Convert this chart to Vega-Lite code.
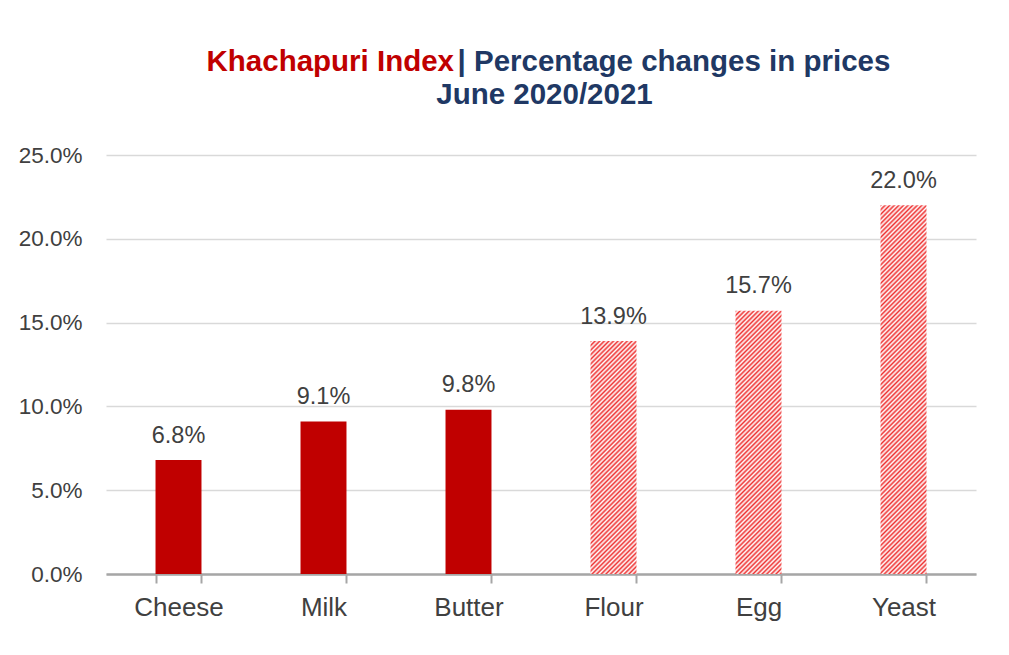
{
"$schema": "https://vega.github.io/schema/vega-lite/v6.json",
"width": 870,
"height": 419,
"autosize": {"type": "none"},
"padding": {"left": 106, "top": 155, "right": 33, "bottom": 81},
"background": "white",
"data": {"values": [
{"item": "Cheese", "value": 0.068},
{"item": "Milk", "value": 0.091},
{"item": "Butter", "value": 0.098},
{"item": "Flour", "value": 0.139},
{"item": "Egg", "value": 0.157},
{"item": "Yeast", "value": 0.22}
]},
"encoding": {
"x": {"field": "item", "type": "nominal", "sort": null,
"scale": {"paddingInner": 0.683, "paddingOuter": 0.3415},
"axis": {"title": "| Percentage changes in prices", "titleFont": "Liberation Sans", "titleFontSize": 29.5, "titleFontWeight": "bold", "titleColor": "#203864", "titleAngle": 0, "titleAlign": "left", "titleBaseline": "alphabetic", "titleAnchor": null, "titleX": 351, "titleY": -504,
"labelAngle": 0, "labelFont": "Liberation Sans", "labelFontSize": 26, "labelColor": "#404040", "labelPadding": 11, "tickBand": "extent", "ticks": true, "tickSize": 9, "tickColor": "#a6a6a6", "tickWidth": 2, "domainColor": "#a6a6a6", "domainWidth": 2.5, "grid": false}}
},
"layer": [
{"mark": {"type": "bar"},
"encoding": {
"y": {"field": "value", "type": "quantitative",
"scale": {"domain": [0, 0.25], "nice": false},
"axis": {"title": "Khachapuri Index", "titleFont": "Liberation Sans", "titleFontSize": 29.5, "titleFontWeight": "bold", "titleColor": "#c00000", "titleAngle": 0, "titleAlign": "left", "titleBaseline": "alphabetic", "titleAnchor": null, "titleX": 100, "titleY": -85,
"values": [0, 0.05, 0.1, 0.15, 0.2, 0.25], "format": ".1%", "domain": false, "ticks": false, "labelFont": "Liberation Sans", "labelFontSize": 22.5, "labelColor": "#404040", "labelPadding": 24, "gridColor": "#d9d9d9", "gridWidth": 1.5}},
"fill": {"condition": [
{"test": "datum.item === 'Flour'", "value": {"gradient": "linear", "x1": 0, "y1": 0, "x2": 0.37527, "y2": 1.90049, "stops": [
{"offset":0,"color":"#e33"},{"offset":0.005,"color":"#fff"},{"offset":0.01,"color":"#e33"},{"offset":0.015,"color":"#fff"},{"offset":0.02,"color":"#e33"},{"offset":0.025,"color":"#fff"},{"offset":0.03,"color":"#e33"},{"offset":0.035,"color":"#fff"},{"offset":0.04,"color":"#e33"},{"offset":0.045,"color":"#fff"},
{"offset":0.05,"color":"#e33"},{"offset":0.055,"color":"#fff"},{"offset":0.06,"color":"#e33"},{"offset":0.065,"color":"#fff"},{"offset":0.07,"color":"#e33"},{"offset":0.075,"color":"#fff"},{"offset":0.08,"color":"#e33"},{"offset":0.085,"color":"#fff"},{"offset":0.09,"color":"#e33"},{"offset":0.095,"color":"#fff"},
{"offset":0.10,"color":"#e33"},{"offset":0.105,"color":"#fff"},{"offset":0.11,"color":"#e33"},{"offset":0.115,"color":"#fff"},{"offset":0.12,"color":"#e33"},{"offset":0.125,"color":"#fff"},{"offset":0.13,"color":"#e33"},{"offset":0.135,"color":"#fff"},{"offset":0.14,"color":"#e33"},{"offset":0.145,"color":"#fff"},
{"offset":0.15,"color":"#e33"},{"offset":0.155,"color":"#fff"},{"offset":0.16,"color":"#e33"},{"offset":0.165,"color":"#fff"},{"offset":0.17,"color":"#e33"},{"offset":0.175,"color":"#fff"},{"offset":0.18,"color":"#e33"},{"offset":0.185,"color":"#fff"},{"offset":0.19,"color":"#e33"},{"offset":0.195,"color":"#fff"},
{"offset":0.20,"color":"#e33"},{"offset":0.205,"color":"#fff"},{"offset":0.21,"color":"#e33"},{"offset":0.215,"color":"#fff"},{"offset":0.22,"color":"#e33"},{"offset":0.225,"color":"#fff"},{"offset":0.23,"color":"#e33"},{"offset":0.235,"color":"#fff"},{"offset":0.24,"color":"#e33"},{"offset":0.245,"color":"#fff"},
{"offset":0.25,"color":"#e33"},{"offset":0.255,"color":"#fff"},{"offset":0.26,"color":"#e33"},{"offset":0.265,"color":"#fff"},{"offset":0.27,"color":"#e33"},{"offset":0.275,"color":"#fff"},{"offset":0.28,"color":"#e33"},{"offset":0.285,"color":"#fff"},{"offset":0.29,"color":"#e33"},{"offset":0.295,"color":"#fff"},
{"offset":0.30,"color":"#e33"},{"offset":0.305,"color":"#fff"},{"offset":0.31,"color":"#e33"},{"offset":0.315,"color":"#fff"},{"offset":0.32,"color":"#e33"},{"offset":0.325,"color":"#fff"},{"offset":0.33,"color":"#e33"},{"offset":0.335,"color":"#fff"},{"offset":0.34,"color":"#e33"},{"offset":0.345,"color":"#fff"},
{"offset":0.35,"color":"#e33"},{"offset":0.355,"color":"#fff"},{"offset":0.36,"color":"#e33"},{"offset":0.365,"color":"#fff"},{"offset":0.37,"color":"#e33"},{"offset":0.375,"color":"#fff"},{"offset":0.38,"color":"#e33"},{"offset":0.385,"color":"#fff"},{"offset":0.39,"color":"#e33"},{"offset":0.395,"color":"#fff"},
{"offset":0.40,"color":"#e33"},{"offset":0.405,"color":"#fff"},{"offset":0.41,"color":"#e33"},{"offset":0.415,"color":"#fff"},{"offset":0.42,"color":"#e33"},{"offset":0.425,"color":"#fff"},{"offset":0.43,"color":"#e33"},{"offset":0.435,"color":"#fff"},{"offset":0.44,"color":"#e33"},{"offset":0.445,"color":"#fff"},
{"offset":0.45,"color":"#e33"},{"offset":0.455,"color":"#fff"},{"offset":0.46,"color":"#e33"},{"offset":0.465,"color":"#fff"},{"offset":0.47,"color":"#e33"},{"offset":0.475,"color":"#fff"},{"offset":0.48,"color":"#e33"},{"offset":0.485,"color":"#fff"},{"offset":0.49,"color":"#e33"},{"offset":0.495,"color":"#fff"},
{"offset":0.50,"color":"#e33"},{"offset":0.505,"color":"#fff"},{"offset":0.51,"color":"#e33"},{"offset":0.515,"color":"#fff"},{"offset":0.52,"color":"#e33"},{"offset":0.525,"color":"#fff"},{"offset":0.53,"color":"#e33"},{"offset":0.535,"color":"#fff"},{"offset":0.54,"color":"#e33"},{"offset":0.545,"color":"#fff"},
{"offset":0.55,"color":"#e33"},{"offset":0.555,"color":"#fff"},{"offset":0.56,"color":"#e33"},{"offset":0.565,"color":"#fff"},{"offset":0.57,"color":"#e33"},{"offset":0.575,"color":"#fff"},{"offset":0.58,"color":"#e33"},{"offset":0.585,"color":"#fff"},{"offset":0.59,"color":"#e33"},{"offset":0.595,"color":"#fff"},
{"offset":0.60,"color":"#e33"},{"offset":0.605,"color":"#fff"},{"offset":0.61,"color":"#e33"},{"offset":0.615,"color":"#fff"},{"offset":0.62,"color":"#e33"}
]}},
{"test": "datum.item === 'Egg'", "value": {"gradient": "linear", "x1": 0, "y1": 0, "x2": 0.29655, "y2": 1.69634, "stops": [
{"offset":0,"color":"#e33"},{"offset":0.005,"color":"#fff"},{"offset":0.01,"color":"#e33"},{"offset":0.015,"color":"#fff"},{"offset":0.02,"color":"#e33"},{"offset":0.025,"color":"#fff"},{"offset":0.03,"color":"#e33"},{"offset":0.035,"color":"#fff"},{"offset":0.04,"color":"#e33"},{"offset":0.045,"color":"#fff"},
{"offset":0.05,"color":"#e33"},{"offset":0.055,"color":"#fff"},{"offset":0.06,"color":"#e33"},{"offset":0.065,"color":"#fff"},{"offset":0.07,"color":"#e33"},{"offset":0.075,"color":"#fff"},{"offset":0.08,"color":"#e33"},{"offset":0.085,"color":"#fff"},{"offset":0.09,"color":"#e33"},{"offset":0.095,"color":"#fff"},
{"offset":0.10,"color":"#e33"},{"offset":0.105,"color":"#fff"},{"offset":0.11,"color":"#e33"},{"offset":0.115,"color":"#fff"},{"offset":0.12,"color":"#e33"},{"offset":0.125,"color":"#fff"},{"offset":0.13,"color":"#e33"},{"offset":0.135,"color":"#fff"},{"offset":0.14,"color":"#e33"},{"offset":0.145,"color":"#fff"},
{"offset":0.15,"color":"#e33"},{"offset":0.155,"color":"#fff"},{"offset":0.16,"color":"#e33"},{"offset":0.165,"color":"#fff"},{"offset":0.17,"color":"#e33"},{"offset":0.175,"color":"#fff"},{"offset":0.18,"color":"#e33"},{"offset":0.185,"color":"#fff"},{"offset":0.19,"color":"#e33"},{"offset":0.195,"color":"#fff"},
{"offset":0.20,"color":"#e33"},{"offset":0.205,"color":"#fff"},{"offset":0.21,"color":"#e33"},{"offset":0.215,"color":"#fff"},{"offset":0.22,"color":"#e33"},{"offset":0.225,"color":"#fff"},{"offset":0.23,"color":"#e33"},{"offset":0.235,"color":"#fff"},{"offset":0.24,"color":"#e33"},{"offset":0.245,"color":"#fff"},
{"offset":0.25,"color":"#e33"},{"offset":0.255,"color":"#fff"},{"offset":0.26,"color":"#e33"},{"offset":0.265,"color":"#fff"},{"offset":0.27,"color":"#e33"},{"offset":0.275,"color":"#fff"},{"offset":0.28,"color":"#e33"},{"offset":0.285,"color":"#fff"},{"offset":0.29,"color":"#e33"},{"offset":0.295,"color":"#fff"},
{"offset":0.30,"color":"#e33"},{"offset":0.305,"color":"#fff"},{"offset":0.31,"color":"#e33"},{"offset":0.315,"color":"#fff"},{"offset":0.32,"color":"#e33"},{"offset":0.325,"color":"#fff"},{"offset":0.33,"color":"#e33"},{"offset":0.335,"color":"#fff"},{"offset":0.34,"color":"#e33"},{"offset":0.345,"color":"#fff"},
{"offset":0.35,"color":"#e33"},{"offset":0.355,"color":"#fff"},{"offset":0.36,"color":"#e33"},{"offset":0.365,"color":"#fff"},{"offset":0.37,"color":"#e33"},{"offset":0.375,"color":"#fff"},{"offset":0.38,"color":"#e33"},{"offset":0.385,"color":"#fff"},{"offset":0.39,"color":"#e33"},{"offset":0.395,"color":"#fff"},
{"offset":0.40,"color":"#e33"},{"offset":0.405,"color":"#fff"},{"offset":0.41,"color":"#e33"},{"offset":0.415,"color":"#fff"},{"offset":0.42,"color":"#e33"},{"offset":0.425,"color":"#fff"},{"offset":0.43,"color":"#e33"},{"offset":0.435,"color":"#fff"},{"offset":0.44,"color":"#e33"},{"offset":0.445,"color":"#fff"},
{"offset":0.45,"color":"#e33"},{"offset":0.455,"color":"#fff"},{"offset":0.46,"color":"#e33"},{"offset":0.465,"color":"#fff"},{"offset":0.47,"color":"#e33"},{"offset":0.475,"color":"#fff"},{"offset":0.48,"color":"#e33"},{"offset":0.485,"color":"#fff"},{"offset":0.49,"color":"#e33"},{"offset":0.495,"color":"#fff"},
{"offset":0.50,"color":"#e33"},{"offset":0.505,"color":"#fff"},{"offset":0.51,"color":"#e33"},{"offset":0.515,"color":"#fff"},{"offset":0.52,"color":"#e33"},{"offset":0.525,"color":"#fff"},{"offset":0.53,"color":"#e33"},{"offset":0.535,"color":"#fff"},{"offset":0.54,"color":"#e33"},{"offset":0.545,"color":"#fff"},
{"offset":0.55,"color":"#e33"},{"offset":0.555,"color":"#fff"},{"offset":0.56,"color":"#e33"},{"offset":0.565,"color":"#fff"},{"offset":0.57,"color":"#e33"},{"offset":0.575,"color":"#fff"},{"offset":0.58,"color":"#e33"},{"offset":0.585,"color":"#fff"},{"offset":0.59,"color":"#e33"},{"offset":0.595,"color":"#fff"},
{"offset":0.60,"color":"#e33"},{"offset":0.605,"color":"#fff"},{"offset":0.61,"color":"#e33"},{"offset":0.615,"color":"#fff"},{"offset":0.62,"color":"#e33"},{"offset":0.625,"color":"#fff"},{"offset":0.63,"color":"#e33"},{"offset":0.635,"color":"#fff"},{"offset":0.64,"color":"#e33"},{"offset":0.645,"color":"#fff"},
{"offset":0.65,"color":"#e33"},{"offset":0.655,"color":"#fff"},{"offset":0.66,"color":"#e33"},{"offset":0.665,"color":"#fff"},{"offset":0.67,"color":"#e33"},{"offset":0.675,"color":"#fff"},{"offset":0.68,"color":"#e33"}
]}},
{"test": "datum.item === 'Yeast'", "value": {"gradient": "linear", "x1": 0, "y1": 0, "x2": 0.15326, "y2": 1.22844, "stops": [
{"offset":0,"color":"#e33"},{"offset":0.005,"color":"#fff"},{"offset":0.01,"color":"#e33"},{"offset":0.015,"color":"#fff"},{"offset":0.02,"color":"#e33"},{"offset":0.025,"color":"#fff"},{"offset":0.03,"color":"#e33"},{"offset":0.035,"color":"#fff"},{"offset":0.04,"color":"#e33"},{"offset":0.045,"color":"#fff"},
{"offset":0.05,"color":"#e33"},{"offset":0.055,"color":"#fff"},{"offset":0.06,"color":"#e33"},{"offset":0.065,"color":"#fff"},{"offset":0.07,"color":"#e33"},{"offset":0.075,"color":"#fff"},{"offset":0.08,"color":"#e33"},{"offset":0.085,"color":"#fff"},{"offset":0.09,"color":"#e33"},{"offset":0.095,"color":"#fff"},
{"offset":0.10,"color":"#e33"},{"offset":0.105,"color":"#fff"},{"offset":0.11,"color":"#e33"},{"offset":0.115,"color":"#fff"},{"offset":0.12,"color":"#e33"},{"offset":0.125,"color":"#fff"},{"offset":0.13,"color":"#e33"},{"offset":0.135,"color":"#fff"},{"offset":0.14,"color":"#e33"},{"offset":0.145,"color":"#fff"},
{"offset":0.15,"color":"#e33"},{"offset":0.155,"color":"#fff"},{"offset":0.16,"color":"#e33"},{"offset":0.165,"color":"#fff"},{"offset":0.17,"color":"#e33"},{"offset":0.175,"color":"#fff"},{"offset":0.18,"color":"#e33"},{"offset":0.185,"color":"#fff"},{"offset":0.19,"color":"#e33"},{"offset":0.195,"color":"#fff"},
{"offset":0.20,"color":"#e33"},{"offset":0.205,"color":"#fff"},{"offset":0.21,"color":"#e33"},{"offset":0.215,"color":"#fff"},{"offset":0.22,"color":"#e33"},{"offset":0.225,"color":"#fff"},{"offset":0.23,"color":"#e33"},{"offset":0.235,"color":"#fff"},{"offset":0.24,"color":"#e33"},{"offset":0.245,"color":"#fff"},
{"offset":0.25,"color":"#e33"},{"offset":0.255,"color":"#fff"},{"offset":0.26,"color":"#e33"},{"offset":0.265,"color":"#fff"},{"offset":0.27,"color":"#e33"},{"offset":0.275,"color":"#fff"},{"offset":0.28,"color":"#e33"},{"offset":0.285,"color":"#fff"},{"offset":0.29,"color":"#e33"},{"offset":0.295,"color":"#fff"},
{"offset":0.30,"color":"#e33"},{"offset":0.305,"color":"#fff"},{"offset":0.31,"color":"#e33"},{"offset":0.315,"color":"#fff"},{"offset":0.32,"color":"#e33"},{"offset":0.325,"color":"#fff"},{"offset":0.33,"color":"#e33"},{"offset":0.335,"color":"#fff"},{"offset":0.34,"color":"#e33"},{"offset":0.345,"color":"#fff"},
{"offset":0.35,"color":"#e33"},{"offset":0.355,"color":"#fff"},{"offset":0.36,"color":"#e33"},{"offset":0.365,"color":"#fff"},{"offset":0.37,"color":"#e33"},{"offset":0.375,"color":"#fff"},{"offset":0.38,"color":"#e33"},{"offset":0.385,"color":"#fff"},{"offset":0.39,"color":"#e33"},{"offset":0.395,"color":"#fff"},
{"offset":0.40,"color":"#e33"},{"offset":0.405,"color":"#fff"},{"offset":0.41,"color":"#e33"},{"offset":0.415,"color":"#fff"},{"offset":0.42,"color":"#e33"},{"offset":0.425,"color":"#fff"},{"offset":0.43,"color":"#e33"},{"offset":0.435,"color":"#fff"},{"offset":0.44,"color":"#e33"},{"offset":0.445,"color":"#fff"},
{"offset":0.45,"color":"#e33"},{"offset":0.455,"color":"#fff"},{"offset":0.46,"color":"#e33"},{"offset":0.465,"color":"#fff"},{"offset":0.47,"color":"#e33"},{"offset":0.475,"color":"#fff"},{"offset":0.48,"color":"#e33"},{"offset":0.485,"color":"#fff"},{"offset":0.49,"color":"#e33"},{"offset":0.495,"color":"#fff"},
{"offset":0.50,"color":"#e33"},{"offset":0.505,"color":"#fff"},{"offset":0.51,"color":"#e33"},{"offset":0.515,"color":"#fff"},{"offset":0.52,"color":"#e33"},{"offset":0.525,"color":"#fff"},{"offset":0.53,"color":"#e33"},{"offset":0.535,"color":"#fff"},{"offset":0.54,"color":"#e33"},{"offset":0.545,"color":"#fff"},
{"offset":0.55,"color":"#e33"},{"offset":0.555,"color":"#fff"},{"offset":0.56,"color":"#e33"},{"offset":0.565,"color":"#fff"},{"offset":0.57,"color":"#e33"},{"offset":0.575,"color":"#fff"},{"offset":0.58,"color":"#e33"},{"offset":0.585,"color":"#fff"},{"offset":0.59,"color":"#e33"},{"offset":0.595,"color":"#fff"},
{"offset":0.60,"color":"#e33"},{"offset":0.605,"color":"#fff"},{"offset":0.61,"color":"#e33"},{"offset":0.615,"color":"#fff"},{"offset":0.62,"color":"#e33"},{"offset":0.625,"color":"#fff"},{"offset":0.63,"color":"#e33"},{"offset":0.635,"color":"#fff"},{"offset":0.64,"color":"#e33"},{"offset":0.645,"color":"#fff"},
{"offset":0.65,"color":"#e33"},{"offset":0.655,"color":"#fff"},{"offset":0.66,"color":"#e33"},{"offset":0.665,"color":"#fff"},{"offset":0.67,"color":"#e33"},{"offset":0.675,"color":"#fff"},{"offset":0.68,"color":"#e33"},{"offset":0.685,"color":"#fff"},{"offset":0.69,"color":"#e33"},{"offset":0.695,"color":"#fff"},
{"offset":0.70,"color":"#e33"},{"offset":0.705,"color":"#fff"},{"offset":0.71,"color":"#e33"},{"offset":0.715,"color":"#fff"},{"offset":0.72,"color":"#e33"},{"offset":0.725,"color":"#fff"},{"offset":0.73,"color":"#e33"},{"offset":0.735,"color":"#fff"},{"offset":0.74,"color":"#e33"},{"offset":0.745,"color":"#fff"},
{"offset":0.75,"color":"#e33"},{"offset":0.755,"color":"#fff"},{"offset":0.76,"color":"#e33"},{"offset":0.765,"color":"#fff"},{"offset":0.77,"color":"#e33"},{"offset":0.775,"color":"#fff"},{"offset":0.78,"color":"#e33"},{"offset":0.785,"color":"#fff"},{"offset":0.79,"color":"#e33"},{"offset":0.795,"color":"#fff"},
{"offset":0.80,"color":"#e33"},{"offset":0.805,"color":"#fff"},{"offset":0.81,"color":"#e33"},{"offset":0.815,"color":"#fff"},{"offset":0.82,"color":"#e33"},{"offset":0.825,"color":"#fff"},{"offset":0.83,"color":"#e33"},{"offset":0.835,"color":"#fff"},{"offset":0.84,"color":"#e33"},{"offset":0.845,"color":"#fff"},
{"offset":0.85,"color":"#e33"},{"offset":0.855,"color":"#fff"},{"offset":0.86,"color":"#e33"},{"offset":0.865,"color":"#fff"},{"offset":0.87,"color":"#e33"},{"offset":0.875,"color":"#fff"},{"offset":0.88,"color":"#e33"},{"offset":0.885,"color":"#fff"},{"offset":0.89,"color":"#e33"},{"offset":0.895,"color":"#fff"},
{"offset":0.90,"color":"#e33"},{"offset":0.905,"color":"#fff"},{"offset":0.91,"color":"#e33"}
]}}
], "value": "#c00000"}}},
{"mark": {"type": "text", "baseline": "alphabetic", "dy": -17.5, "fontSize": 23.5, "font": "Liberation Sans", "color": "#404040"},
"encoding": {
"y": {"field": "value", "type": "quantitative",
"axis": {"orient": "right", "title": "June 2020/2021", "titleFont": "Liberation Sans", "titleFontSize": 29.5, "titleFontWeight": "bold", "titleColor": "#203864", "titleAngle": 0, "titleAlign": "center", "titleBaseline": "alphabetic", "titleAnchor": null, "titleX": -432, "titleY": -52,
"labels": false, "ticks": false, "domain": false, "grid": false}},
"text": {"field": "value", "type": "quantitative", "format": ".1%"}}}
],
"resolve": {"axis": {"y": "independent"}},
"config": {"view": {"stroke": null}}
}
